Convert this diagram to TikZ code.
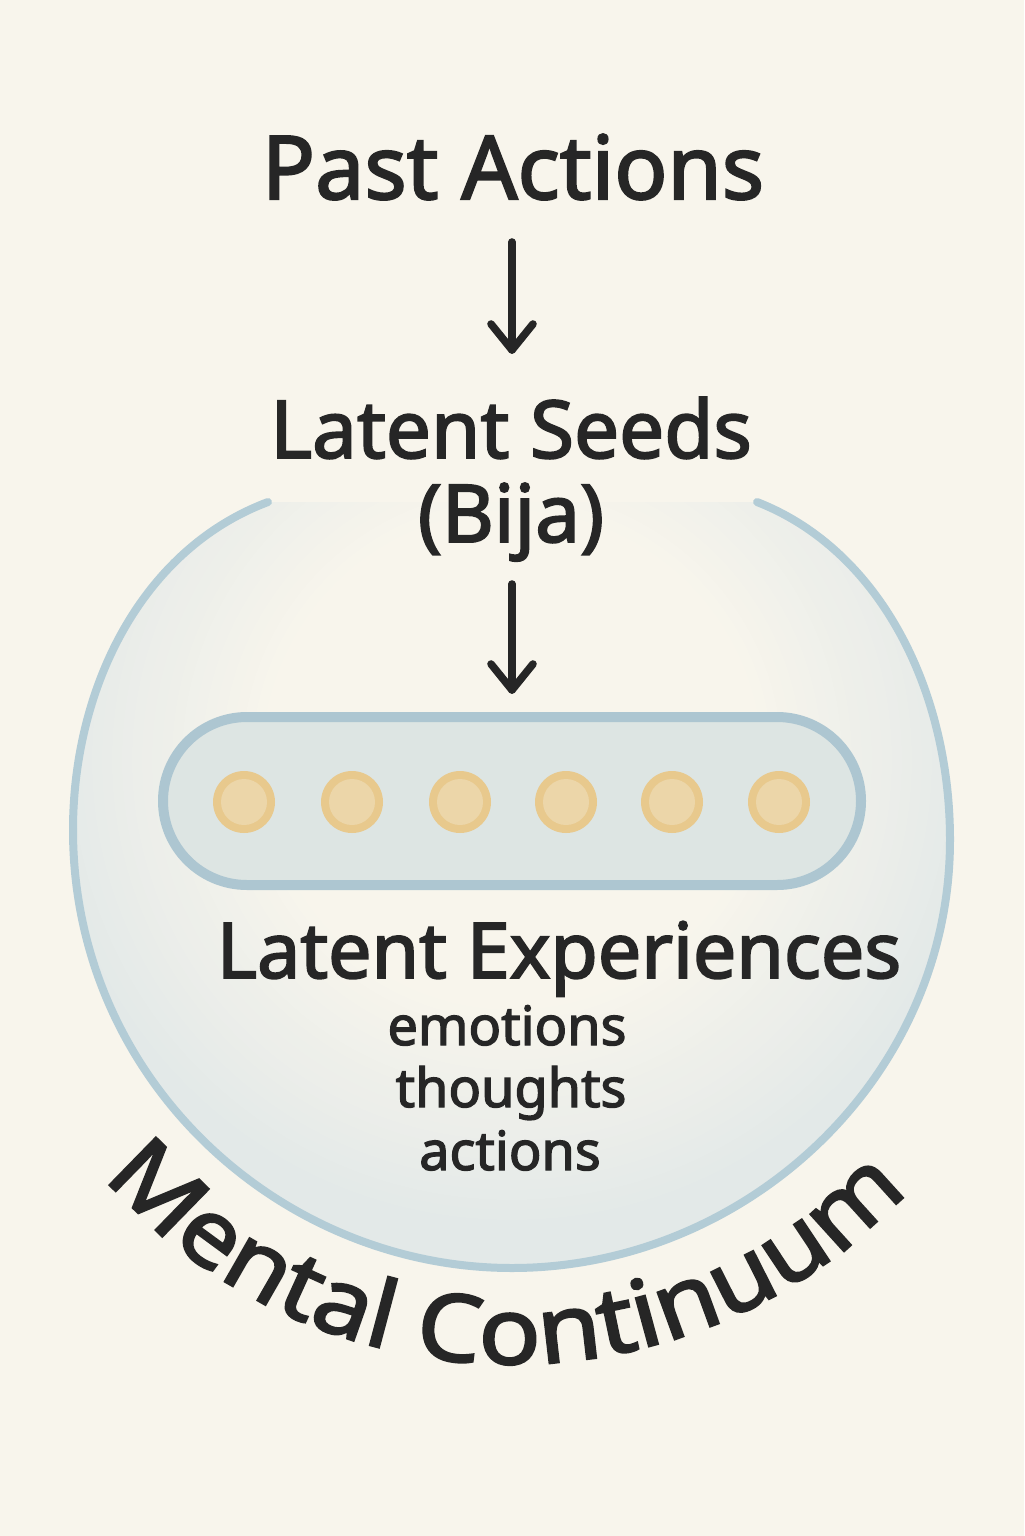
\documentclass[tikz,border=0pt]{standalone}
\usepackage{fontspec}
\setmainfont{Noto Sans}[FakeBold=2.4]
\newfontfamily\ns{Noto Sans}[FakeBold=2.4]
\newfontfamily\nsw{Noto Sans}[FakeBold=2.4,FakeStretch=1.11]
\usetikzlibrary{decorations.text,shapes.misc}
\definecolor{bgc}{HTML}{F8F5EC}
\definecolor{ink}{HTML}{262626}
\definecolor{rim}{HTML}{B3CCD6}
\definecolor{capfill}{HTML}{DDE5E3}
\definecolor{caprim}{HTML}{ADC6D1}
\definecolor{seedout}{HTML}{E8C98D}
\definecolor{seedin}{HTML}{ECD6A9}
\definecolor{glowc}{HTML}{E3E9E8}
\def\rimpath{(268,502) .. controls (140,550) and (73,690) .. (73,830) .. controls (73,1080) and (280,1268) .. (512,1268) .. controls (744,1268) and (950,1080) .. (950,840) .. controls (950,690) and (880,550) .. (757,502)}
\begin{document}
\begin{tikzpicture}[x=0.5pt,y=-0.5pt,
  label/.style={inner sep=0pt, anchor=base, text=ink, font=\ns},
  flow/.style={draw=ink, line width=3.8pt, line cap=round, line join=round},
  seed/.style={circle, fill=seedout, minimum size=31pt, inner sep=0pt,
    path picture={\fill[seedin] (path picture bounding box.center) circle (11.5pt);}},
  capsule/.style={rounded rectangle, draw=caprim, fill=capfill, line width=5pt,
    minimum width=349pt, minimum height=84pt, inner sep=0pt}]
\fill[bgc] (0,0) rectangle (1024,1536);
\useasboundingbox (0,0) rectangle (1024,1536);

% mental continuum container: soft tint fading towards the middle
\begin{scope}
  \clip \rimpath -- cycle;
  \fill[glowc] (0,400) rectangle (1024,1300);
  \foreach \r in {470,460,...,250} {
    \pgfmathsetmacro\pp{(470-\r)/220*100}
    \fill[bgc!\pp!glowc] (512,760) circle ({\r*0.5pt});
  }
\end{scope}
\draw[rim, line width=4pt, line cap=round] \rimpath;

% titles
\node[label, font=\ns\fontsize{44}{50}\selectfont] (past) at (513,199) {Past Actions};
\node[label, font=\ns\fontsize{40}{46}\selectfont] (seeds) at (511,458) {Latent Seeds};
\node[label, font=\ns\fontsize{40}{46}\selectfont] (bija) at (511,542) {(Bija)};

% arrows
\coordinate (a1s) at (512,242);
\coordinate (a1e) at (512,350);
\coordinate (a2s) at (512,584);
\coordinate (a2e) at (512,690);
\draw[flow] (a1s) -- (a1e);
\draw[flow] (a1e) ++(-21,-26) -- (a1e) -- ++(21,-26);
\draw[flow] (a2s) -- (a2e);
\draw[flow] (a2e) ++(-21,-26) -- (a2e) -- ++(21,-26);

% capsule with seeds
\node[capsule] (cap) at (512,801) {};
\foreach \i/\xx in {1/244,2/352,3/460,4/566,5/672,6/779} {
  \node[seed] (s\i) at (\xx,802) {};
}

% latent experiences
\node[label, font=\ns\fontsize{38.5}{44}\selectfont] (exp) at (559,978) {Latent Experiences};
\node[label, font=\ns\fontsize{27}{31}\selectfont] (emo) at (507,1045) {emotions};
\node[label, font=\ns\fontsize{27}{31}\selectfont] (tho) at (511,1107) {thoughts};
\node[label, font=\ns\fontsize{27}{31}\selectfont] (act) at (510,1170) {actions};

% curved label
\path[decorate, decoration={text along path, text align=center,
    text={|\nsw\fontsize{46.5}{52}\selectfont\color{ink}|Mental Continuum}}]
  ([shift={(512,826)}]170:538) arc[start angle=170, end angle=12, radius=538];
\end{tikzpicture}
\end{document}
